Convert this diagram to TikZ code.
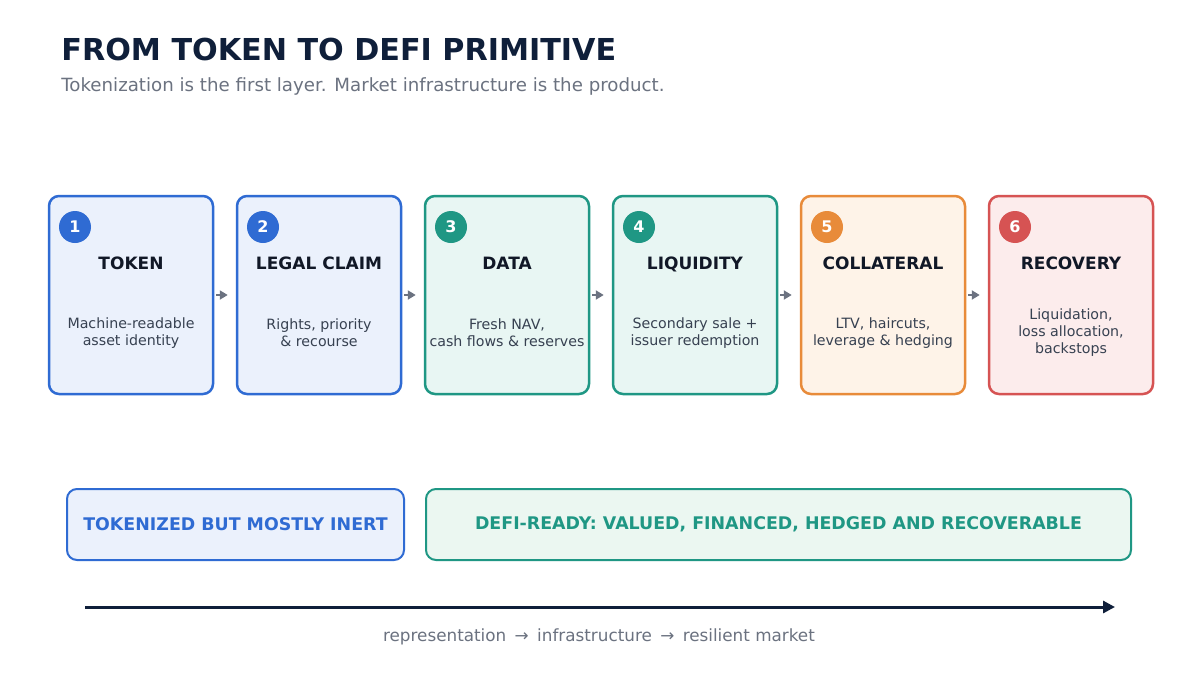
\documentclass[tikz,border=0pt]{standalone}
\usepackage{fontspec}
\setmainfont{DejaVu Sans}
\usetikzlibrary{arrows.meta}
\definecolor{navy}{HTML}{0F1F3A}
\definecolor{subgray}{HTML}{6B7280}
\definecolor{bodytxt}{HTML}{374151}
\definecolor{ttl}{HTML}{111827}
\definecolor{cblue}{HTML}{2F6BD3}
\definecolor{fblue}{HTML}{EBF1FC}
\definecolor{cteal}{HTML}{1F9784}
\definecolor{fteal}{HTML}{E8F6F3}
\definecolor{corange}{HTML}{E88B3A}
\definecolor{forange}{HTML}{FEF3E8}
\definecolor{cred}{HTML}{D65353}
\definecolor{fred}{HTML}{FCECEC}
\definecolor{fgreen}{HTML}{EBF7F1}
\tikzset{
  stagebox/.style={draw=c#1, fill=f#1, line width=1.25pt, rounded corners=5pt,
    minimum width=82pt, minimum height=99pt, inner sep=0pt},
  numdot/.style={circle, fill=c#1, minimum size=16pt, inner sep=0pt, text=white,
    font=\fontsize{8}{8}\selectfont\bfseries},
  stagetitle/.style={text=ttl, anchor=base, inner sep=0pt, font=\fontsize{8.5}{10}\selectfont\bfseries},
  stagebody/.style={text=bodytxt, align=center, font=\fontsize{7.1}{8.5}\selectfont},
  flowarrow/.style={draw=subgray, line width=1pt, -{Triangle[length=4pt,width=4.5pt]}},
  bandbox/.style={line width=1pt, rounded corners=5pt, minimum height=35.5pt, inner sep=0pt,
    font=\fontsize{8.7}{10}\selectfont\bfseries},
}
\begin{document}
\begin{tikzpicture}[x=0.5pt,y=-0.5pt]
\useasboundingbox[fill=white] (0,0) rectangle (1199,680);
\node[anchor=base west, text=navy, font=\fontsize{15.1}{18}\selectfont\bfseries, inner sep=0pt] (title) at (61,60) {FROM TOKEN TO DEFI PRIMITIVE};
\node[anchor=base west, text=subgray, font=\fontsize{9.1}{11}\selectfont, inner sep=0pt] (subtitle) at (61,91) {Tokenization is the first layer. Market infrastructure is the product.};

\node[stagebox=blue] (b1) at (131,295) {};
\node[stagebox=blue] (b2) at (319,295) {};
\node[stagebox=teal] (b3) at (507,295) {};
\node[stagebox=teal] (b4) at (695,295) {};
\node[stagebox=orange] (b5) at (883,295) {};
\node[stagebox=red] (b6) at (1071,295) {};

\node[numdot=blue] (n1) at (75,227) {1};
\node[numdot=blue] (n2) at (263,227) {2};
\node[numdot=teal] (n3) at (451,227) {3};
\node[numdot=teal] (n4) at (639,227) {4};
\node[numdot=orange] (n5) at (827,227) {5};
\node[numdot=red] (n6) at (1015,227) {6};

\node[stagetitle] (t1) at (131,269) {TOKEN};
\node[stagetitle] (t2) at (319,269) {LEGAL CLAIM};
\node[stagetitle] (t3) at (507,269) {DATA};
\node[stagetitle] (t4) at (695,269) {LIQUIDITY};
\node[stagetitle] (t5) at (883,269) {COLLATERAL};
\node[stagetitle] (t6) at (1071,269) {RECOVERY};

\node[stagebody] (d1) at (131,333) {Machine-readable\\asset identity};
\node[stagebody] (d2) at (319,333) {Rights, priority\\\& recourse};
\node[stagebody] (d3) at (507,333) {Fresh NAV,\\cash flows \& reserves};
\node[stagebody] (d4) at (695,333) {Secondary sale +\\issuer redemption};
\node[stagebody] (d5) at (883,333) {LTV, haircuts,\\leverage \& hedging};
\node[stagebody] (d6) at (1071,333) {Liquidation,\\loss allocation,\\backstops};

\foreach \a/\b in {b1/b2,b2/b3,b3/b4,b4/b5,b5/b6}
  \draw[flowarrow] ([xshift=1pt]\a.east) -- ([xshift=-4pt]\b.west);

\node[bandbox, draw=cblue, fill=fblue, text=cblue, minimum width=168.5pt] (inert) at (235.5,524.5) {TOKENIZED BUT MOSTLY INERT};
\node[bandbox, draw=cteal, fill=fgreen, text=cteal, minimum width=352.5pt] (ready) at (778.5,524.5) {DEFI-READY: VALUED, FINANCED, HEDGED AND RECOVERABLE};

\coordinate (axstart) at (85,607);
\coordinate (axend) at (1115,607);
\draw[draw=navy, line width=1.5pt, -{Triangle[length=6pt,width=6pt]}] (axstart) -- (axend);
\node[text=subgray, font=\fontsize{8.4}{10}\selectfont] (axlabel) at (599,637) {representation\enspace→\enspace infrastructure\enspace→\enspace resilient market};
\end{tikzpicture}
\end{document}
